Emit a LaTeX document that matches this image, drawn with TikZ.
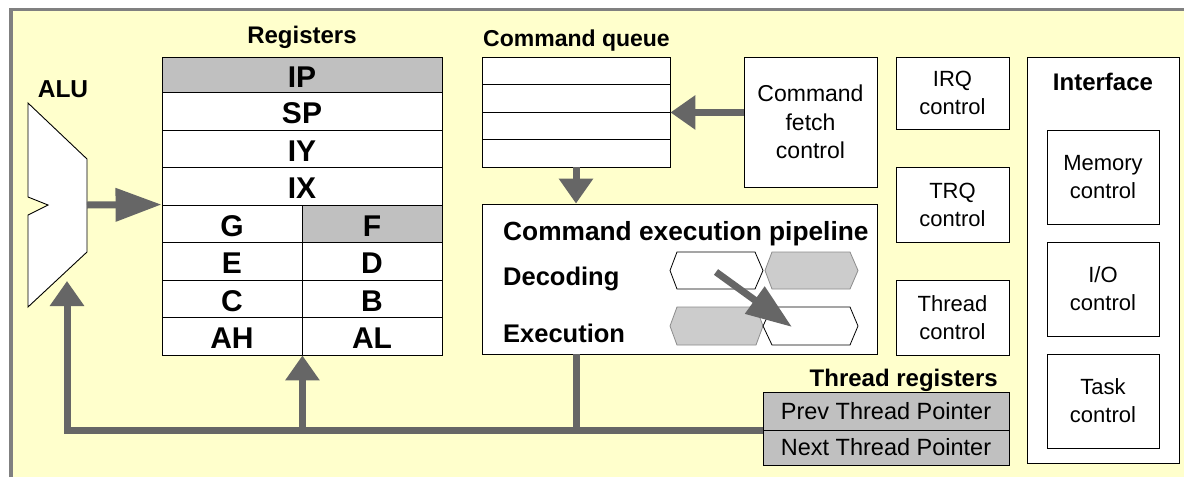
\documentclass[tikz,border=0pt]{standalone}
\usepackage{fontspec}
\setmainfont{Liberation Sans}
\usetikzlibrary{arrows.meta}

\definecolor{bgyellow}{HTML}{FFFFCC}
\definecolor{framegray}{HTML}{808080}
\definecolor{busgray}{HTML}{666666}
\definecolor{regfill}{HTML}{C0C0C0}
\definecolor{hexfill}{HTML}{CCCCCC}
\definecolor{hexline}{HTML}{8C8C8C}

\tikzset{
  box/.style={draw=black, line width=0.9pt, fill=white, inner sep=0pt,
    align=center, font=\fontsize{22}{28}\selectfont},
  reg/.style={draw=black, line width=0.9pt, fill=white, inner sep=0pt,
    text height=24.5pt, text depth=0pt, font=\fontsize{30}{30}\selectfont\bfseries},
  qrow/.style={draw=black, line width=0.9pt, fill=white, inner sep=0pt,
    minimum width=188pt, minimum height=27.5pt},
  treg/.style={draw=black, line width=0.9pt, fill=regfill, inner sep=0pt,
    minimum width=246pt, font=\fontsize{23.5}{28}\selectfont},
  head/.style={inner sep=0pt, font=\fontsize{23}{28}\selectfont\bfseries},
  stagelabel/.style={inner sep=0pt, font=\fontsize{25.5}{30}\selectfont\bfseries},
  busline/.style={draw=busgray, line width=7pt},
  busarrow/.style={busline, -{Triangle[length=25pt,width=33pt]}},
  buslong/.style={busline, -{Triangle[length=46pt,width=32pt]}},
  whitehex/.style={draw=black, line width=0.8pt, fill=white},
  grayhex/.style={draw=hexline, line width=0.8pt, fill=hexfill},
}

\begin{document}
\begin{tikzpicture}[x=1pt,y=-1pt]
\useasboundingbox (0,0) rectangle (1184,477);

% background and frame
\fill[white] (0,0) rectangle (1184,477);
\fill[bgyellow] (11,9.5) rectangle (1184,477);
\draw[framegray, line width=3.75pt] (11,477) -- (11,9.5) -- (1184,9.5);

% ALU
\draw[line width=0.9pt, fill=white]
  (28,103) -- (87,159) -- (87,252) -- (28,307) -- (28,215) -- (48,205) -- (28,197) -- cycle;
\coordinate (aluout) at (87,205);
\coordinate (aluin) at (67,281);
\node[head, font=\fontsize{24.5}{28}\selectfont\bfseries, anchor=base] (alulabel) at (63,97) {ALU};

% register file
\node[head, font=\fontsize{24}{28}\selectfont\bfseries, anchor=base] (reglabel) at (302,43) {Registers};
\node[reg, fill=regfill, minimum width=280pt, minimum height=35.5pt] (ip) at (302,74.75) {IP};
\node[reg, minimum width=280pt, minimum height=37.5pt] (sp) at (302,111.25) {SP};
\node[reg, minimum width=280pt, minimum height=37.5pt] (iy) at (302,148.75) {IY};
\node[reg, minimum width=280pt, minimum height=37.5pt] (ix) at (302,186.25) {IX};
\node[reg, minimum width=140pt, minimum height=37.5pt] (g) at (232,223.75) {G};
\node[reg, fill=regfill, minimum width=140pt, minimum height=37.5pt] (f) at (372,223.75) {F};
\node[reg, minimum width=140pt, minimum height=37.5pt] (e) at (232,261.25) {E};
\node[reg, minimum width=140pt, minimum height=37.5pt] (d) at (372,261.25) {D};
\node[reg, minimum width=140pt, minimum height=37.5pt] (c) at (232,298.75) {C};
\node[reg, minimum width=140pt, minimum height=37.5pt] (b) at (372,298.75) {B};
\node[reg, minimum width=140pt, minimum height=37.5pt] (ah) at (232,336.25) {AH};
\node[reg, minimum width=140pt, minimum height=37.5pt] (al) at (372,336.25) {AL};

% command queue
\node[head, font=\fontsize{23}{28}\selectfont\bfseries, anchor=base west] (qlabel) at (483,46) {Command queue};
\node[qrow] (q1) at (576,70.75) {};
\node[qrow] (q2) at (576,98.25) {};
\node[qrow] (q3) at (576,125.75) {};
\node[qrow] (q4) at (576,153.25) {};

% fetch and control units
\node[box, font=\fontsize{23}{28.5}\selectfont, minimum width=133pt, minimum height=130pt] (fetch) at (810.5,122) {Command\\fetch\\control};
\node[box, minimum width=113pt, minimum height=72pt] (irq) at (952.5,93) {IRQ\\control};
\node[box, minimum width=113pt, minimum height=75pt] (trq) at (952.5,204.5) {TRQ\\control};
\node[box, minimum width=113pt, minimum height=75pt] (thread) at (952.5,317.5) {Thread\\control};

% interface
\node[box, minimum width=152pt, minimum height=406pt] (iface) at (1103,260) {};
\node[head, font=\fontsize{24}{28}\selectfont\bfseries, anchor=base] (iflabel) at (1103,90) {Interface};
\node[box, minimum width=112pt, minimum height=94pt] (mem) at (1103,177) {Memory\\control};
\node[box, minimum width=112pt, minimum height=94pt] (io) at (1103,289) {I/O\\control};
\node[box, minimum width=112pt, minimum height=94pt] (task) at (1103,401) {Task\\control};

% execution pipeline
\node[box, minimum width=395pt, minimum height=150pt] (pipe) at (679.5,279) {};
\node[stagelabel, font=\fontsize{26.3}{30}\selectfont\bfseries, anchor=base west] (pipelabel) at (503,240) {Command execution pipeline};
\node[stagelabel, anchor=base west] (declabel) at (503,285) {Decoding};
\node[stagelabel, anchor=base west] (exelabel) at (503,342) {Execution};
\draw[whitehex] (670,270.5) -- (677,252) -- (755,252) -- (763,270.5) -- (755,289) -- (677,289) -- cycle;
\draw[grayhex] (765,270.5) -- (772,252) -- (850,252) -- (858,270.5) -- (850,289) -- (772,289) -- cycle;
\draw[grayhex] (670,326) -- (677,307) -- (756,307) -- (763,326) -- (756,345) -- (677,345) -- cycle;
\draw[whitehex] (763,326) -- (772,307) -- (850,307) -- (858,326) -- (850,345) -- (772,345) -- cycle;
\coordinate (dgstart) at (716,272);
\coordinate (dgend) at (792,327);

% thread registers
\node[head, font=\fontsize{24}{28}\selectfont\bfseries, anchor=base east] (trlabel) at (998,386) {Thread registers};
\node[treg, minimum height=38pt] (prev) at (886,411) {Prev Thread Pointer};
\node[treg, minimum height=35pt] (next) at (886,447.5) {Next Thread Pointer};

% data paths
\draw[buslong] (aluout) -- (g.north west);
\draw[busarrow] (fetch.west |- q2.south east) -- (q2.south east);
\draw[busarrow] (q4.south) -- (q4.south |- pipe.north);
\draw[busline] (q4.south |- pipe.south) -- (q4.south |- prev.south west);
\draw[busarrow] (prev.south west) -| (aluin);
\draw[busarrow] (prev.south west -| ah.south east) -- (ah.south east);
\draw[buslong] (dgstart) -- (dgend);
\end{tikzpicture}
\end{document}
